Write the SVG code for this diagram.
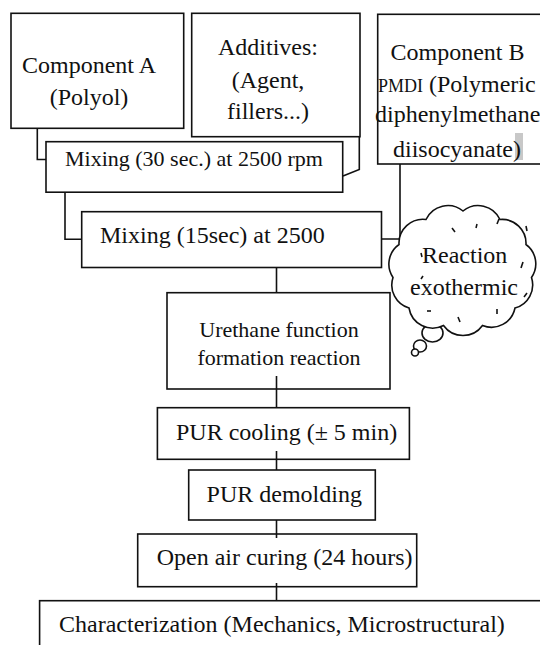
<svg xmlns="http://www.w3.org/2000/svg" width="540" height="645" viewBox="0 0 540 645">
<defs>
<style>
.box{fill:#fff;stroke:#111;stroke-width:1.6}
.ln{fill:none;stroke:#111;stroke-width:1.6}
.t{font-family:'Liberation Serif','DejaVu Serif',serif;font-size:24px;fill:#111}
.t22{font-size:22px}
.c{text-anchor:middle}
</style>
</defs>
<rect width="540" height="645" fill="#fff"/>
<g id="connectors">
<path class="ln" d="M37.3,128 V159.5 H46"/>
<path class="ln" d="M359.3,137 V169.5 L343,176"/>
<path class="ln" d="M65,190 V239.3 H83"/>
<path class="ln" d="M400,162 V239 H378"/>
<path class="ln" d="M276.5,265 V293"/>
<path class="ln" d="M276.5,376 V408"/>
<path class="ln" d="M276.5,451 V470"/>
<path class="ln" d="M276.5,520 V538"/>
<path class="ln" d="M276.5,583 V601"/>
</g>
<g font-family="Liberation Serif, serif">
<g id="componentA">
<rect class="box" x="11" y="13.3" width="172.7" height="115"/>
<text class="t c" x="89" y="73">Component A</text>
<text class="t c" x="89" y="105">(Polyol)</text>
</g>
<g id="additives">
<rect class="box" x="191.7" y="13.3" width="168.3" height="123.4"/>
<text class="t c" x="268" y="55">Additives:</text>
<text class="t c" x="268" y="88">(Agent,</text>
<text class="t c" x="268" y="119">fillers...)</text>
</g>
<g id="componentB">
<rect class="box" x="377.7" y="14.3" width="180" height="149.7"/>
<rect x="515" y="133" width="8" height="27" fill="#c8c8c8"/>
<text class="t c" x="457.5" y="60">Component B</text>
<text class="t" x="378" y="91.7"><tspan font-size="18">PMDI</tspan> (Polymeric</text>
<text class="t" x="375" y="122">diphenylmethane</text>
<text class="t" x="393" y="156.7">diisocyanate)</text>
</g>
<g id="mixing30">
<rect class="box" x="46" y="141.7" width="296.7" height="50.5"/>
<text class="t t22" x="65" y="165.7">Mixing (30 sec.) at 2500 rpm</text>
</g>
<g id="mixing15">
<rect class="box" x="81.7" y="211.7" width="299.8" height="55.8"/>
<text class="t" x="100" y="243.3">Mixing (15sec) at 2500</text>
</g>
<g id="reaction">
<ellipse class="box" cx="432.5" cy="333" rx="10.5" ry="9"/>
<ellipse class="box" cx="420" cy="346" rx="6.5" ry="6"/>
<circle class="box" cx="415" cy="352.5" r="3.5"/>
<path class="box" d="M463,211 A24,24 0 0 1 500,219.5 A24,24 0 0 1 526,244.5 A24,24 0 0 1 531.5,277.5 A24,24 0 0 1 515,308 A24,24 0 0 1 482.5,325.5 A24,24 0 0 1 443.5,325.5 A24,24 0 0 1 409,308 A24,24 0 0 1 393,277.5 A24,24 0 0 1 399,244.5 A24,24 0 0 1 426,219.5 A24,24 0 0 1 463,211 Z"/>
<g class="ln" stroke-width="1.3">
<path d="M452,228 l3,4"/>
<path d="M477,224 l-1,4"/>
<path d="M499,219 l-2,5"/>
<path d="M526,226 l1,5"/>
<path d="M523,262 l-2,6"/>
<path d="M527,293 l-3,4"/>
<path d="M497,309 l0,5"/>
<path d="M458,317 l2,5"/>
<path d="M427,311 l4,0"/>
<path d="M421,279 l2,-3"/>
<path d="M421,253 l1,4"/>
</g>
<text class="t c" x="464.7" y="263.3">Reaction</text>
<text class="t" x="410" y="295">exothermic</text>
</g>
<g id="urethane">
<rect class="box" x="167" y="292.7" width="223" height="96.3"/>
<text class="t t22 c" x="279" y="337">Urethane function</text>
<text class="t t22 c" x="279" y="365">formation reaction</text>
</g>
<line class="ln" x1="276.5" y1="376" x2="276.5" y2="389"/>
<g id="cooling">
<rect class="box" x="157.4" y="407.7" width="252" height="51.6"/>
<text class="t" x="176" y="440">PUR cooling (± 5 min)</text>
</g>
<line class="ln" x1="276.5" y1="451" x2="276.5" y2="459.3"/>
<g id="demolding">
<rect class="box" x="188.7" y="470" width="186.6" height="50"/>
<text class="t" x="206.6" y="501.7">PUR demolding</text>
</g>
<g id="curing">
<rect class="box" x="137.7" y="534" width="279" height="52.7"/>
<text class="t" x="156.7" y="565">Open air curing (24 hours)</text>
</g>
<line class="ln" x1="276.5" y1="534" x2="276.5" y2="538"/>
<line class="ln" x1="276.5" y1="583" x2="276.5" y2="586.7"/>
<g id="characterization">
<rect class="box" x="39.6" y="600.7" width="530" height="70"/>
<text class="t" x="59" y="631.7">Characterization (Mechanics, Microstructural)</text>
</g>
</g>
</svg>
